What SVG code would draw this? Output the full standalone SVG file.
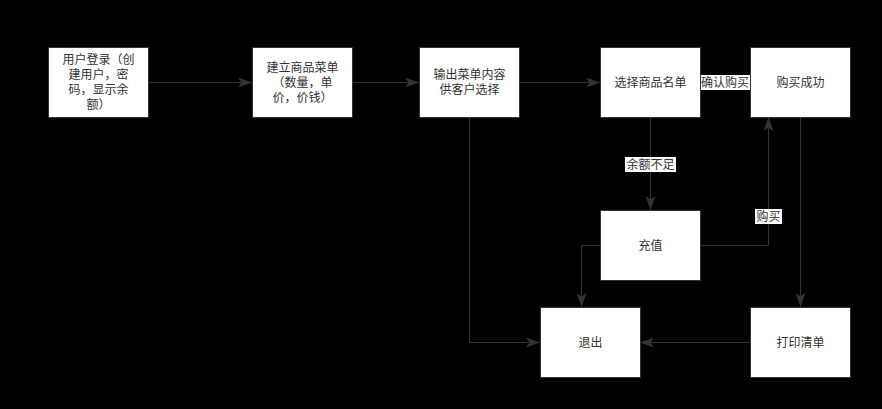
<svg xmlns="http://www.w3.org/2000/svg" width="882" height="409" viewBox="0 0 882 409">
<defs>
<marker id="arr" viewBox="0 0 14 10" refX="13.5" refY="5" markerWidth="14" markerHeight="10" markerUnits="userSpaceOnUse" orient="auto">
<path d="M0,0 L14,5 L0,10 L3.5,5 Z" fill="#333333"/>
</marker>
<style>
.box{fill:#ffffff;stroke:#333333;stroke-width:1}
.t{font-family:"Liberation Sans","Noto Sans CJK SC",sans-serif;font-size:12px;fill:#333333;text-anchor:middle}
.c{fill:none;stroke:#333333;stroke-width:1;marker-end:url(#arr)}
.lb{fill:#ffffff}
</style>
</defs>
<rect x="0" y="0" width="882" height="409" fill="#000000"/>
<g id="connectors">
<path class="c" d="M148.5,82.5 L251.5,82.5"/>
<path class="c" d="M352.5,82.5 L418.5,82.5"/>
<path class="c" d="M519.5,82.5 L599.5,82.5"/>
<path class="c" d="M700.5,82.5 L749.5,82.5"/>
<path class="c" d="M650.5,117.5 L650.5,209.5"/>
<path class="c" d="M700.5,245.5 L768.5,245.5 L768.5,117.5"/>
<path class="c" d="M800.5,117.5 L800.5,306.5"/>
<path class="c" d="M750.5,342.5 L640.5,342.5"/>
<path class="c" d="M600.5,245.5 L581.5,245.5 L581.5,306.5"/>
<path class="c" d="M469.5,117.5 L469.5,342.5 L539.5,342.5"/>
<rect class="lb" x="700" y="75" width="50" height="15"/>
<text class="t" x="725" y="87">确认购买</text>
<rect class="lb" x="625" y="157" width="51" height="15"/>
<text class="t" x="650.5" y="169">余额不足</text>
<rect class="lb" x="755" y="209" width="27" height="15"/>
<text class="t" x="768.5" y="221">购买</text>
</g>
<g id="n1"><rect class="box" x="48.5" y="47.5" width="100" height="70"/>
<text class="t" x="98.5" y="64">用户登录（创</text><text class="t" x="98.5" y="79">建用户，密</text><text class="t" x="98.5" y="94">码，显示余</text><text class="t" x="98.5" y="109">额）</text></g>
<g id="n2"><rect class="box" x="252.5" y="47.5" width="100" height="70"/>
<text class="t" x="302.5" y="72">建立商品菜单</text><text class="t" x="302.5" y="87">（数量，单</text><text class="t" x="302.5" y="102">价，价钱）</text></g>
<g id="n3"><rect class="box" x="419.5" y="47.5" width="100" height="70"/>
<text class="t" x="469.5" y="79">输出菜单内容</text><text class="t" x="469.5" y="94">供客户选择</text></g>
<g id="n4"><rect class="box" x="600.5" y="47.5" width="100" height="70"/>
<text class="t" x="650.5" y="87">选择商品名单</text></g>
<g id="n5"><rect class="box" x="750.5" y="47.5" width="100" height="70"/>
<text class="t" x="800.5" y="87">购买成功</text></g>
<g id="n6"><rect class="box" x="600.5" y="210.5" width="100" height="70"/>
<text class="t" x="650.5" y="250">充值</text></g>
<g id="n7"><rect class="box" x="540.5" y="307.5" width="100" height="70"/>
<text class="t" x="590.5" y="347">退出</text></g>
<g id="n8"><rect class="box" x="750.5" y="307.5" width="100" height="70"/>
<text class="t" x="800.5" y="347">打印清单</text></g>
</svg>
